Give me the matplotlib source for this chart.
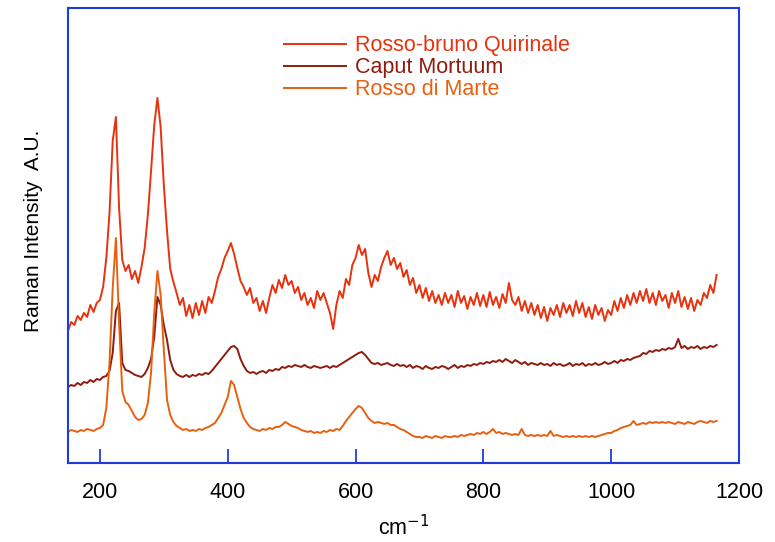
import numpy as np
import matplotlib
matplotlib.use("Agg")
import matplotlib.pyplot as plt

plt.rcParams["font.family"] = ["Liberation Sans", "DejaVu Sans"]

# Raman shift grid (cm-1), 150..1165 in 5 cm-1 steps
wavenumber = np.arange(150, 1170, 5)

# intensities (arbitrary units), 10 values per 50 cm-1
quirinale = [
    132, 141, 138, 147, 143, 150, 146, 158, 151, 160,
    163, 176, 205, 250, 322, 346, 255, 203, 192, 198,
    184, 192, 180, 196, 215, 248, 292, 338, 365, 336,
    278, 232, 194, 181, 170, 158, 165, 147, 158, 145,
    160, 148, 162, 150, 166, 160, 172, 186, 194, 205,
    212, 220, 209, 195, 182, 176, 168, 175, 160, 165,
    152, 162, 150, 165, 178, 170, 183, 175, 188, 178,
    182, 170, 176, 163, 170, 158, 165, 155, 172, 163,
    170, 160, 150, 134, 158, 172, 165, 184, 178, 198,
    205, 218, 208, 214, 190, 176, 188, 182, 196, 205,
    212, 198, 205, 194, 200, 186, 193, 178, 185, 170,
    178, 165, 175, 162, 172, 160, 168, 158, 170, 160,
    168, 156, 172, 160, 167, 154, 166, 158, 170, 157,
    168, 156, 171, 158, 166, 155, 169, 160, 180, 163,
    158, 166, 152, 162, 150, 160, 148, 158, 145, 156,
    142, 155, 148, 158, 146, 160, 150, 158, 147, 162,
    150, 160, 146, 156, 144, 158, 148, 155, 142, 153,
    148, 162, 152, 165, 155, 168, 158, 170, 160, 172,
    162, 174, 160, 170, 158, 172, 162, 168, 155, 170,
    160, 172, 156, 166, 154, 165, 152, 163, 158, 170,
    165, 178, 170, 188,
]

caput = [
    76, 78, 77, 80, 78, 81, 80, 83, 81, 84,
    83, 86, 87, 92, 110, 152, 160, 100, 93, 92,
    90, 88, 87, 86, 89, 95, 104, 126, 166, 158,
    138, 123, 103, 93, 89, 87, 86, 88, 86, 88,
    87, 89, 88, 90, 89, 92, 96, 100, 104, 108,
    112, 116, 117, 114, 104, 97, 92, 90, 91, 89,
    91, 92, 90, 93, 92, 94, 93, 96, 95, 97,
    96, 98, 97, 96, 98, 96, 95, 97, 96, 95,
    96, 97, 95, 97, 96, 98, 100, 102, 104, 106,
    108, 110, 111, 108, 104, 100, 99, 100, 98, 99,
    100, 98, 97, 99, 97, 98, 96, 98, 95, 97,
    96, 94, 97, 95, 94, 96, 95, 97, 96, 94,
    96, 98, 95, 97, 96, 98, 97, 99, 98, 100,
    99, 101, 100, 102, 101, 103, 101, 104, 102, 100,
    103, 101, 99, 101, 98, 100, 99, 98, 100, 98,
    99, 97, 100, 98, 99, 97, 98, 100, 97, 99,
    98, 100, 97, 99, 98, 100, 98, 99, 101, 99,
    100, 102, 100, 103, 102, 104, 103, 105, 106, 107,
    110, 109, 112, 111, 113, 112, 114, 113, 115, 114,
    116, 124, 115, 117, 114, 116, 115, 117, 114, 116,
    115, 117, 116, 118,
]

marte = [
    31, 33, 32, 31, 33, 32, 34, 33, 32, 34,
    35, 38, 55, 100, 175, 225, 140, 72, 61, 58,
    52, 46, 43, 44, 48, 60, 90, 150, 192, 168,
    113, 63, 48, 41, 37, 35, 33, 34, 32, 33,
    32, 34, 33, 35, 36, 38, 40, 45, 50, 58,
    66, 82, 78, 66, 54, 45, 40, 36, 34, 33,
    32, 34, 33, 35, 34, 36, 36, 38, 41, 39,
    37, 36, 35, 33, 32, 31, 32, 30, 31, 30,
    32, 31, 33, 32, 34, 33, 37, 42, 46, 50,
    54, 57, 55, 50, 45, 42, 40, 41, 40, 39,
    40, 38, 38, 36, 34, 33, 31, 29, 27, 26,
    26, 25, 27, 26, 25, 27, 26, 25, 27, 26,
    26, 27, 26, 28, 27, 28, 29, 28, 30, 29,
    31, 29, 31, 34, 30, 31, 29, 30, 29, 28,
    29, 28, 34, 28, 27, 28, 27, 28, 27, 28,
    27, 32, 27, 28, 27, 26, 27, 26, 27, 26,
    27, 26, 27, 26, 27, 26, 27, 28, 29, 30,
    30, 32, 33, 35, 36, 37, 38, 42, 38, 39,
    40, 39, 41, 40, 41, 40, 41, 40, 41, 40,
    39, 41, 40, 39, 41, 40, 39, 41, 42, 41,
    40, 42, 41, 42,
]

labels = ["Rosso-bruno Quirinale", "Caput Mortuum", "Rosso di Marte"]
colors = ["#E8320E", "#8E1B0B", "#E8600F"]
frame_blue = "#1F3BDB"

fig = plt.figure(figsize=(7.75, 5.42), dpi=100)
ax = fig.add_axes([0.0877, 0.1458, 0.8658, 0.8395])

for series, lab, c in zip([quirinale, caput, marte], labels, colors):
    ax.plot(wavenumber, series, color=c, lw=1.4, label=lab)

ax.set_xlim(150, 1200)
ax.set_ylim(0, 455)
ax.set_xticks([200, 400, 600, 800, 1000, 1200])
ax.set_yticks([])
ax.tick_params(axis="x", direction="in", length=10, width=1.3,
               color=frame_blue, labelsize=15.5, pad=14)
for sp in ax.spines.values():
    sp.set_color(frame_blue)
    sp.set_linewidth(1.5)

ax.set_xlabel("cm$^{-1}$", fontsize=15.5, labelpad=8)
ax.set_ylabel("Raman Intensity  A.U.", fontsize=15)
ax.yaxis.set_label_coords(-0.037, 0.51)

leg = ax.legend(loc="upper left", bbox_to_anchor=(0.322, 0.94),
                frameon=False, fontsize=15.5, handlelength=2.9,
                handletextpad=0.4, labelspacing=0.05,
                borderpad=0, borderaxespad=0, labelcolor="linecolor")

fig.savefig("out.png", dpi=100)
